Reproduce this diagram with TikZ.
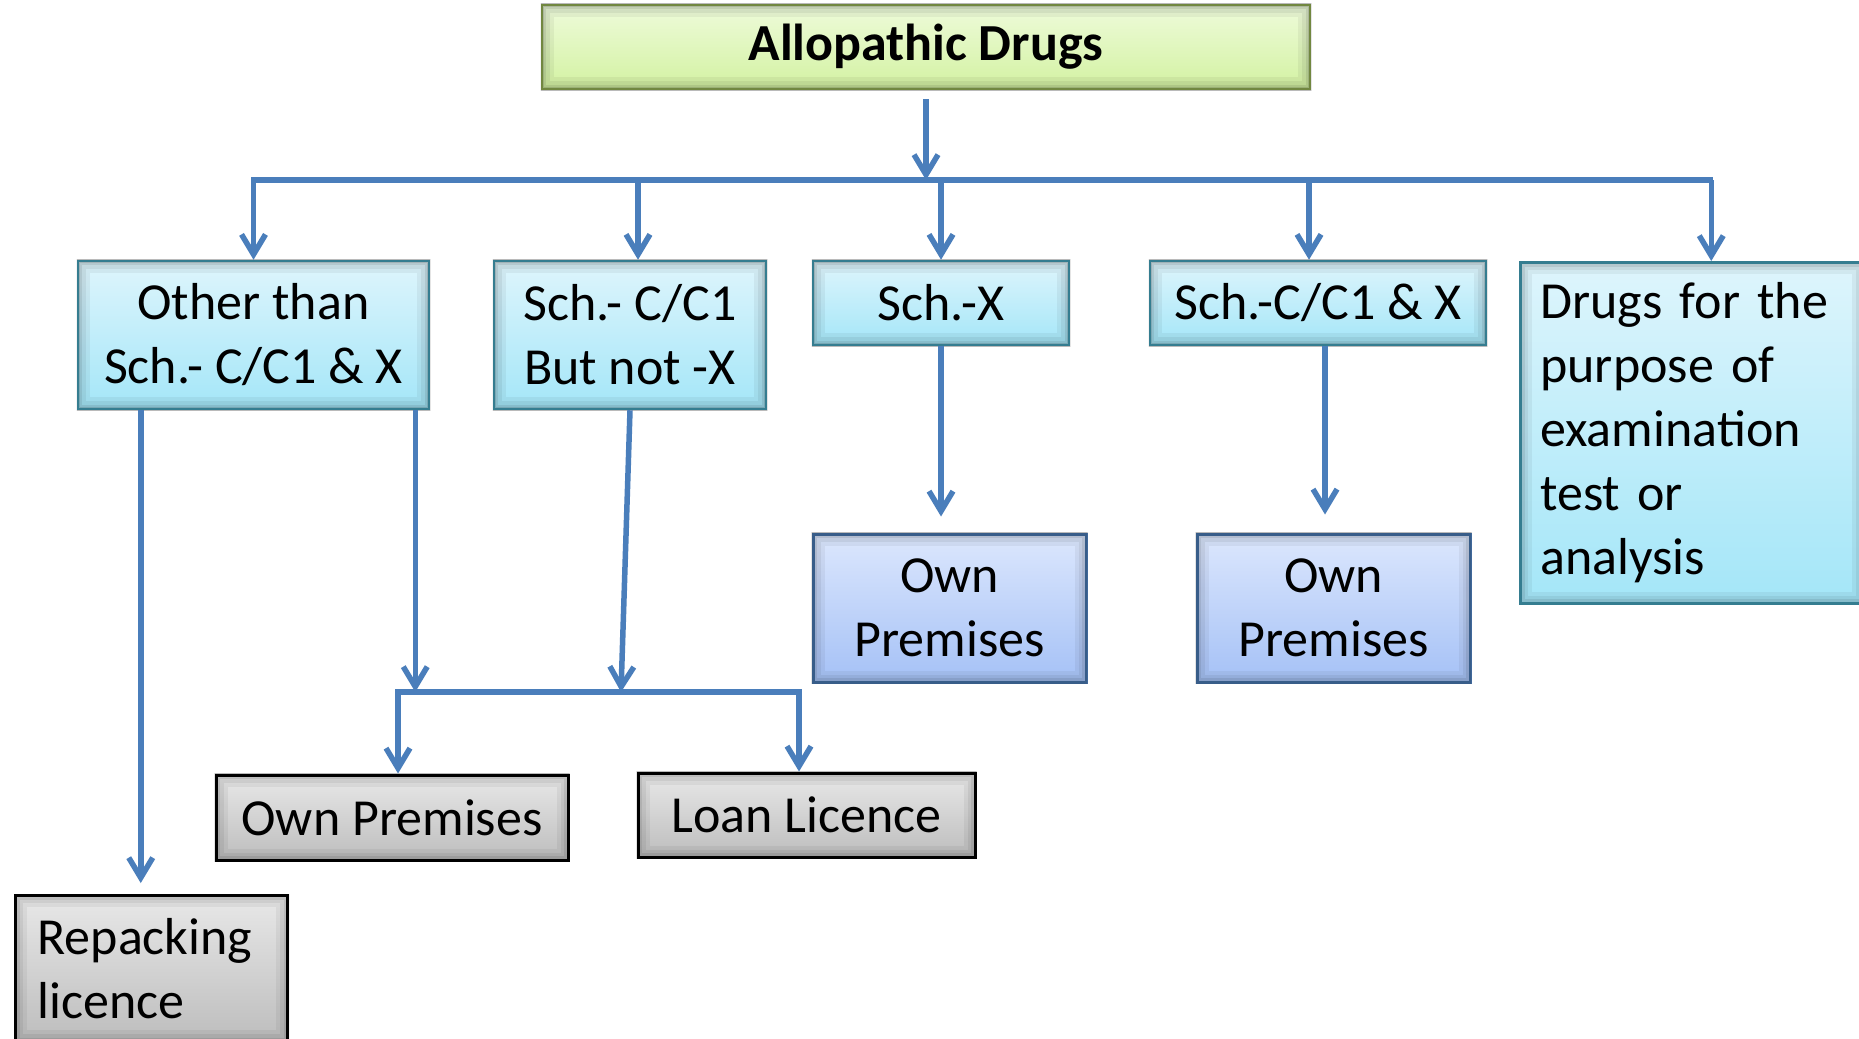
\documentclass[tikz,border=0pt]{standalone}
\usepackage{fontspec}
\setmainfont{Carlito}
\usetikzlibrary{arrows.meta}
\definecolor{lineblue}{HTML}{4A7EBB}
\definecolor{gtop}{HTML}{EEFBDA}
\definecolor{gbot}{HTML}{D3F2A2}
\definecolor{gborder}{HTML}{9BBB59}
\definecolor{ctop}{HTML}{DEF5FC}
\definecolor{cbot}{HTML}{A4E6F8}
\definecolor{cborder}{HTML}{4BACC6}
\definecolor{btop}{HTML}{DCE7FD}
\definecolor{bbot}{HTML}{A5C1F6}
\definecolor{bborder}{HTML}{4F81BD}
\definecolor{ytop}{HTML}{E8E8E8}
\definecolor{ybot}{HTML}{BDBDBD}
\newcommand{\inshadow}[1]{%
  \begin{scope}
  \clip (#1.south west) rectangle (#1.north east);
  \foreach \w/\o in {26/0.05,18/0.06,11/0.08,6/0.11}
    \draw[black, opacity=\o, line width=\w pt] (#1.south west) rectangle (#1.north east);
  \end{scope}}
\begin{document}
\begin{tikzpicture}[x=1pt, y=-1pt,
  basebox/.style={rectangle, inner sep=0pt, font=\fontsize{52}{64}\selectfont, line width=2.5pt},
  topbox/.style={basebox, draw=gborder, top color=gtop, bottom color=gbot, font=\fontsize{52}{60}\selectfont\bfseries},
  cyanbox/.style={basebox, draw=cborder, top color=ctop, bottom color=cbot},
  bluebox/.style={basebox, draw=bborder, top color=btop, bottom color=bbot, line width=3pt},
  graybox/.style={basebox, draw=black, top color=ytop, bottom color=ybot, line width=3pt},
  conn/.style={draw=lineblue, line width=5.5pt},
  arr/.style={conn, -{Straight Barb[length=20pt, width=24pt]}}
]
\useasboundingbox (0,0) rectangle (1859,1038);
\fill[white] (0,0) rectangle (1859,1038);

\node[topbox, minimum width=768pt, minimum height=84pt] (top) at (926,47) {Allopathic Drugs};
\node[cyanbox, minimum width=351pt, minimum height=148pt, align=center] (A) at (253.5,335) {Other than\\Sch.- C/C1 \& X};
\node[cyanbox, minimum width=272pt, minimum height=148pt, align=center] (B) at (630,335) {Sch.- C/C1\\But not -X};
\node[cyanbox, minimum width=256pt, minimum height=84pt] (C) at (941,303) {Sch.-X};
\node[cyanbox, minimum width=336pt, minimum height=84pt] (D) at (1318,303) {Sch.-C/C1 \& X};
\node[cyanbox, anchor=north west, minimum height=341pt, text width=303pt, inner xsep=20pt, align=left] (E) at (1519,261) {Drugs for the\\purpose of\\examination\\test or\\analysis};
\node[bluebox, minimum width=273pt, minimum height=148pt, align=center] (F) at (949.5,608) {Own\\Premises};
\node[bluebox, minimum width=273pt, minimum height=148pt, align=center] (G) at (1333.5,608) {Own\\Premises};
\node[graybox, minimum width=352pt, minimum height=85pt] (H) at (392,817.5) {Own Premises};
\node[graybox, minimum width=337pt, minimum height=84pt] (I) at (806.5,815) {Loan Licence};
\node[graybox, anchor=north west, minimum height=146pt, text width=228pt, inner xsep=22pt, align=left] (J) at (14,894) {Repacking\\licence};

\foreach \n in {top,A,B,C,D,E,F,G,H,I,J} {\inshadow{\n}}

% connectors
\coordinate (bus) at (926,180);
\coordinate (busL) at (254,180);
\coordinate (busR) at (1710,180);
\coordinate (bus2L) at (398,692);
\coordinate (bus2R) at (799,692);

\draw[arr, shorten <=9pt] (top.south) -- (bus);
\draw[conn, line cap=rect] (busL) -- (busR);
\draw[arr] (bus -| A.north) -- (A.north);
\draw[arr] ([xshift=8pt]B.north |- bus) -- ([xshift=8pt]B.north);
\draw[arr] (bus -| C.north) -- (C.north);
\draw[arr] ([xshift=-9pt]D.north |- bus) -- ([xshift=-9pt]D.north);
\draw[arr] ([xshift=19.5pt]E.north |- bus) -- ([xshift=19.5pt]E.north);

\draw[arr, shorten >=16pt] (C.south) -- (C.south |- F.north);
\draw[arr, shorten >=18pt] ([xshift=7pt]D.south) -- ([xshift=7pt]D.south |- G.north);

\draw[arr, shorten >=11pt] ([xshift=64pt]A.south west) -- ([xshift=64pt]A.south west |- J.north);
\draw[arr] ([xshift=-15pt]A.south east) -- ([xshift=-15pt]A.south east |- bus2L);
\draw[arr] (B.south) -- ([xshift=-9pt]B.south |- bus2L);
\draw[conn, line cap=rect] (bus2L) -- (bus2R);
\draw[arr] (bus2L) -- (bus2L |- H.north);
\draw[arr] (bus2R) -- (bus2R |- I.north);
\end{tikzpicture}
\end{document}
